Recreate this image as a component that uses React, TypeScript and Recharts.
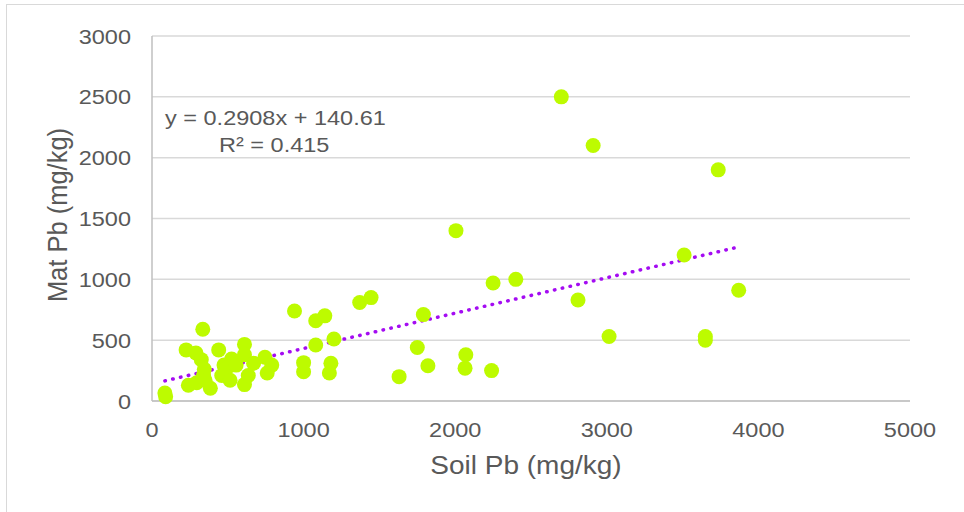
import {
  ReferenceLine,
  Scatter,
  ScatterChart,
  CartesianGrid,
  Label,
  XAxis,
  YAxis,
} from "recharts";

// Soil Pb vs mat Pb samples (mg/kg)
const soilPb = [
  85, 90, 225, 240, 290, 295, 325, 335, 340, 345, 350, 385, 440, 460, 475, 490,
  515, 525, 555, 610, 610, 610, 635, 670, 745, 760, 790, 940, 1000, 1000, 1080,
  1080, 1140, 1170, 1180, 1200, 1370, 1445, 1630, 1750, 1790, 1820, 2005, 2065,
  2070, 2240, 2250, 2400, 2700, 2810, 2910, 3015, 3510, 3650, 3650, 3735, 3870,
];
const matPb = [
  65, 35, 420, 130, 395, 150, 340, 590, 210, 260, 170, 105, 420, 210, 295, 265,
  170, 345, 295, 465, 380, 135, 210, 310, 360, 230, 295, 740, 315, 240, 660,
  460, 700, 230, 310, 510, 810, 850, 200, 440, 710, 290, 1400, 270, 380, 250,
  970, 1000, 2500, 830, 2100, 530, 1200, 530, 500, 1900, 910,
];

const xTicks = [0, 1000, 2000, 3000, 4000, 5000];
const yTicks = [0, 500, 1000, 1500, 2000, 2500, 3000];

// linear trendline shown on the chart
const slope = 0.2908;
const intercept = 140.61;
const trendX = [Math.min(...soilPb), Math.max(...soilPb)];

const points = soilPb.map((x, i) => ({ x, y: matPb[i] }));

const ink = "#595959";
const font = "'Liberation Sans', Arial, sans-serif";
// the source picture is a bit stretched sideways, text included
const stretch = 1.12;

function XTick(p: any) {
  return (
    <text
      transform={`translate(${p.x},${p.y}) scale(${stretch},1)`}
      y={36.5}
      textAnchor="middle"
      fill={ink}
      fontSize={21}
      fontFamily={font}
    >
      {p.payload.value}
    </text>
  );
}

function YTick(p: any) {
  return (
    <text
      transform={`translate(${p.x - 21},${p.y}) scale(${stretch},1)`}
      y={7.5}
      textAnchor="end"
      fill={ink}
      fontSize={21}
      fontFamily={font}
    >
      {p.payload.value}
    </text>
  );
}

export default function App() {
  return (
    <div
      style={{
        position: "absolute",
        left: 0,
        top: 0,
        width: 964,
        height: 512,
        overflow: "hidden",
        background: "#fff",
        fontFamily: font,
      }}
    >
      <div
        style={{
          position: "absolute",
          left: 6,
          top: 4,
          width: 980,
          height: 530,
          border: "1px solid #d9d9d9",
        }}
      />
      <div style={{ position: "absolute", left: 0, top: 0 }}>
        <ScatterChart
          width={964}
          height={512}
          margin={{ top: 36, right: 54, bottom: 61, left: 72 }}
        >
          <CartesianGrid stroke="#d9d9d9" strokeWidth={1.5} vertical={false} />
          <XAxis
            type="number"
            dataKey="x"
            domain={[0, 5000]}
            ticks={xTicks}
            height={50}
            axisLine={{ stroke: "#bfbfbf", strokeWidth: 1.5 }}
            tickLine={false}
            tickSize={0}
            tickMargin={0}
            tick={<XTick />}
          />
          <YAxis
            type="number"
            dataKey="y"
            domain={[0, 3000]}
            ticks={yTicks}
            width={80}
            axisLine={{ stroke: "#bfbfbf", strokeWidth: 1.5 }}
            tickLine={false}
            tickSize={0}
            tickMargin={0}
            tick={<YTick />}
          />
          <ReferenceLine
            segment={trendX.map((x) => ({ x, y: slope * x + intercept }))}
            stroke="#a40cf2"
            strokeWidth={3.5}
            strokeDasharray="0.5 7.5"
            strokeLinecap="round"
            ifOverflow="visible"
          />
          <Scatter
            data={points}
            isAnimationActive={false}
            shape={(p: any) => (
              <circle cx={p.cx} cy={p.cy} r={7.5} fill="#bdfb00" />
            )}
          />
          <ReferenceLine
            segment={[{ x: 0, y: 3000 }, { x: 0, y: 3000 }]}
            stroke="none"
            ifOverflow="visible"
          >
            <Label
              content={() => (
                <g fill={ink} fontFamily={font}>
                  <text
                    transform={`translate(165,125) scale(${stretch},1)`}
                    fontSize={21}
                  >
                    y = 0.2908x + 140.61
                  </text>
                  <text
                    transform={`translate(219,152) scale(${stretch},1)`}
                    fontSize={21}
                  >
                    R² = 0.415
                  </text>
                  <text
                    transform={`translate(526,474) scale(${stretch},1)`}
                    textAnchor="middle"
                    fontSize={25}
                  >
                    Soil Pb (mg/kg)
                  </text>
                  <text
                    transform={`translate(57,215) scale(${stretch},1) rotate(-90)`}
                    textAnchor="middle"
                    dominantBaseline="central"
                    fontSize={25.5}
                  >
                    Mat Pb (mg/kg)
                  </text>
                </g>
              )}
            />
          </ReferenceLine>
        </ScatterChart>
      </div>
    </div>
  );
}
